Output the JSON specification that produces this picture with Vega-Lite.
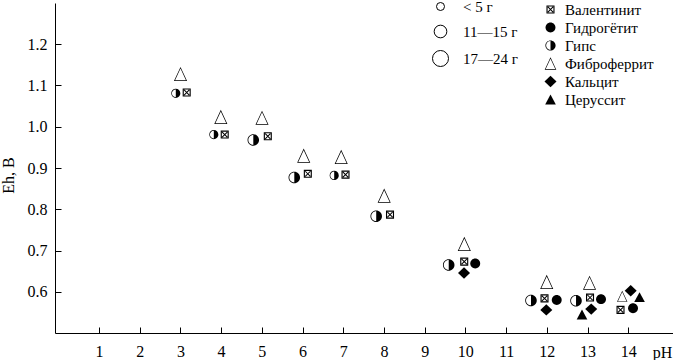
{
  "$schema": "https://vega.github.io/schema/vega-lite/v6.json",
  "width": 618,
  "height": 330,
  "autosize": {"type": "none"},
  "padding": {"left": 55, "top": 3, "right": 0, "bottom": 27},
  "background": "white",
  "config": {
    "view": {"stroke": null},
    "font": "Liberation Serif",
    "axis": {
      "grid": false,
      "domainColor": "black",
      "domainWidth": 1,
      "tickColor": "black",
      "tickWidth": 1,
      "labelColor": "black",
      "labelFont": "Liberation Serif",
      "labelFontSize": 16,
      "titleFont": "Liberation Serif",
      "titleFontSize": 16,
      "titleFontWeight": "normal",
      "titleColor": "black"
    },
    "legend": {
      "labelFont": "Liberation Serif",
      "labelFontSize": 15,
      "labelFontWeight": "normal",
      "labelColor": "black",
      "padding": 0
    }
  },
  "data": {
    "values": [
      {"pH": 3.003, "Eh": 1.128, "mineral": "Фиброферрит", "mass": "17—24 г"},
      {"pH": 3.993, "Eh": 1.024, "mineral": "Фиброферрит", "mass": "17—24 г"},
      {"pH": 5.005, "Eh": 1.022, "mineral": "Фиброферрит", "mass": "17—24 г"},
      {"pH": 6.029, "Eh": 0.930, "mineral": "Фиброферрит", "mass": "17—24 г"},
      {"pH": 6.950, "Eh": 0.927, "mineral": "Фиброферрит", "mass": "17—24 г"},
      {"pH": 8.006, "Eh": 0.833, "mineral": "Фиброферрит", "mass": "17—24 г"},
      {"pH": 9.974, "Eh": 0.716, "mineral": "Фиброферрит", "mass": "17—24 г"},
      {"pH": 11.998, "Eh": 0.624, "mineral": "Фиброферрит", "mass": "17—24 г"},
      {"pH": 13.050, "Eh": 0.622, "mineral": "Фиброферрит", "mass": "17—24 г"},
      {"pH": 13.853, "Eh": 0.589, "mineral": "Фиброферрит", "mass": "11—15 г"},
      {"pH": 2.887, "Eh": 1.081, "mineral": "Гипс", "mass": "11—15 г"},
      {"pH": 3.821, "Eh": 0.981, "mineral": "Гипс", "mass": "11—15 г"},
      {"pH": 4.791, "Eh": 0.968, "mineral": "Гипс", "mass": "17—24 г"},
      {"pH": 5.798, "Eh": 0.877, "mineral": "Гипс", "mass": "17—24 г"},
      {"pH": 6.778, "Eh": 0.882, "mineral": "Гипс", "mass": "11—15 г"},
      {"pH": 7.810, "Eh": 0.783, "mineral": "Гипс", "mass": "17—24 г"},
      {"pH": 9.591, "Eh": 0.665, "mineral": "Гипс", "mass": "17—24 г"},
      {"pH": 11.612, "Eh": 0.579, "mineral": "Гипс", "mass": "17—24 г"},
      {"pH": 12.718, "Eh": 0.578, "mineral": "Гипс", "mass": "17—24 г"},
      {"pH": 3.155, "Eh": 1.083, "mineral": "Валентинит", "mass": null},
      {"pH": 4.089, "Eh": 0.981, "mineral": "Валентинит", "mass": null},
      {"pH": 5.147, "Eh": 0.977, "mineral": "Валентинит", "mass": null},
      {"pH": 6.130, "Eh": 0.886, "mineral": "Валентинит", "mass": null},
      {"pH": 7.056, "Eh": 0.884, "mineral": "Валентинит", "mass": null},
      {"pH": 8.149, "Eh": 0.787, "mineral": "Валентинит", "mass": null},
      {"pH": 9.972, "Eh": 0.673, "mineral": "Валентинит", "mass": null},
      {"pH": 11.944, "Eh": 0.584, "mineral": "Валентинит", "mass": null},
      {"pH": 13.062, "Eh": 0.586, "mineral": "Валентинит", "mass": null},
      {"pH": 13.811, "Eh": 0.556, "mineral": "Валентинит", "mass": null},
      {"pH": 10.242, "Eh": 0.6685, "mineral": "Гидрогётит", "mass": null},
      {"pH": 12.244, "Eh": 0.580, "mineral": "Гидрогётит", "mass": null},
      {"pH": 13.332, "Eh": 0.582, "mineral": "Гидрогётит", "mass": null},
      {"pH": 14.118, "Eh": 0.560, "mineral": "Гидрогётит", "mass": null},
      {"pH": 9.967, "Eh": 0.6455, "mineral": "Кальцит", "mass": null},
      {"pH": 11.988, "Eh": 0.556, "mineral": "Кальцит", "mass": null},
      {"pH": 13.091, "Eh": 0.558, "mineral": "Кальцит", "mass": null},
      {"pH": 14.061, "Eh": 0.6025, "mineral": "Кальцит", "mass": null},
      {"pH": 12.865, "Eh": 0.545, "mineral": "Церуссит", "mass": null},
      {"pH": 14.278, "Eh": 0.587, "mineral": "Церуссит", "mass": null}
    ]
  },
  "mark": {"type": "point", "filled": true, "opacity": 1},
  "encoding": {
    "x": {
      "field": "pH",
      "type": "quantitative",
      "scale": {"domain": [-0.08, 15.1], "nice": false, "zero": false},
      "axis": {
        "values": [1, 2, 3, 4, 5, 6, 7, 8, 9, 10, 11, 12, 13, 14],
        "format": "d",
        "tickSize": -6,
        "labelPadding": 16,
        "title": "pH",
        "titleX": 607,
        "titleY": 19,
        "titleAlign": "center",
        "titleBaseline": "middle"
      }
    },
    "y": {
      "field": "Eh",
      "type": "quantitative",
      "scale": {"domain": [0.5, 1.3], "nice": false, "zero": false},
      "axis": {
        "values": [0.6, 0.7, 0.8, 0.9, 1.0, 1.1, 1.2],
        "format": ".1f",
        "tickSize": -6,
        "labelPadding": 14,
        "title": "Eh, B",
        "titleAngle": 270,
        "titleX": -47,
        "titleY": 172,
        "titleAlign": "center",
        "titleBaseline": "middle"
      }
    },
    "fill": {
      "field": "mineral",
      "type": "nominal",
      "scale": {"range": ["black"]},
      "legend": null
    },
    "shape": {
      "field": "mineral",
      "type": "nominal",
      "scale": {
        "domain": ["Валентинит", "Гидрогётит", "Гипс", "Фиброферрит", "Кальцит", "Церуссит"],
        "range": [
          "M-0.57,-0.57L0.57,-0.57L0.57,0.57L-0.57,0.57Z M-0.41,-0.41L-0.41,0.41L0.41,0.41L0.41,-0.41Z M-0.41,-0.31L-0.31,-0.41L0.41,0.31L0.31,0.41Z M0.31,-0.41L0.41,-0.31L-0.31,0.41L-0.41,0.31Z",
          "M0.7,0A0.7,0.7,0,1,1,-0.7,0A0.7,0.7,0,1,1,0.7,0Z",
          "M0,-0.72A0.72,0.72,0,0,1,0,0.72A0.72,0.72,0,0,1,0,-0.72Z M0,-0.62A0.62,0.62,0,0,0,0,0.62Z",
          "M0,-0.88L0.82,0.88L-0.82,0.88Z M0,-0.667L-0.679,0.79L0.679,0.79Z",
          "M0,-0.8L0.85,0L0,0.8L-0.85,0Z",
          "M0,-0.7L0.75,0.7L-0.75,0.7Z"
        ]
      },
      "legend": {
        "title": null,
        "orient": "none",
        "legendX": 488,
        "legendY": -1,
        "rowPadding": 2,
        "labelOffset": 7,
        "labelFont": "Liberation Serif",
        "labelFontSize": 15,
        "symbolSize": 200,
        "symbolFillColor": "black",
        "symbolStrokeColor": "transparent",
        "symbolStrokeWidth": 0
      }
    },
    "size": {
      "field": "mass",
      "type": "ordinal",
      "condition": {"test": "datum.mass == null", "value": 200},
      "scale": {"domain": ["< 5 г", "11—15 г", "17—24 г"], "range": [64, 256, 471]},
      "legend": {
        "title": null,
        "orient": "none",
        "legendX": 377,
        "legendY": -4,
        "rowPadding": 8,
        "labelOffset": 14,
        "labelFont": "Liberation Serif",
        "labelFontSize": 15,
        "symbolType": "circle",
        "symbolFillColor": "white",
        "symbolStrokeColor": "black",
        "symbolStrokeWidth": 1
      }
    }
  }
}
